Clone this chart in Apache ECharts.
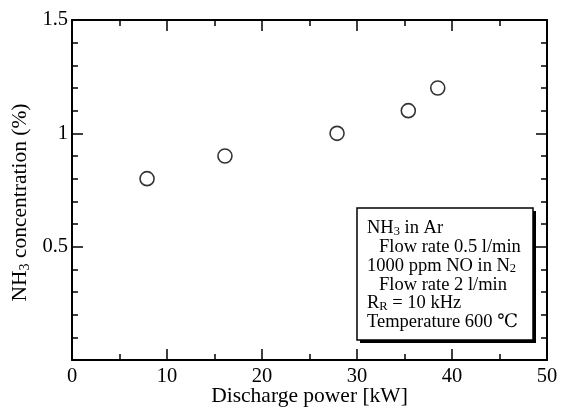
<!DOCTYPE html>
<html>
<head>
<meta charset="utf-8">
<script src="https://cdn.jsdelivr.net/npm/echarts@6/dist/echarts.min.js"></script>
<style>html,body{margin:0;padding:0;background:#fff;}#c{width:561px;height:409px;}</style>
</head>
<body>
<div id="c"></div>
<script>
const powerKW = [7.9, 16.1, 27.9, 35.4, 38.5];
const nh3Percent = [0.80, 0.90, 1.00, 1.10, 1.20];
const xTicks = [0, 10, 20, 30, 40, 50];
const yTicks = [0.5, 1, 1.5];
const noteLines = [
  '{t|NH}{s|3}{t| in Ar}',
  '{i| }{t|Flow rate 0.5 l/min}',
  '{t|1000 ppm NO in N}{s|2}',
  '{i| }{t|Flow rate 2 l/min}',
  '{t|R}{s|R}{t| = 10 kHz}',
  '{t|Temperature 600 \u2103}'
];

const F = '"Liberation Serif", "DejaVu Serif", serif';
const chart = echarts.init(document.getElementById('c'), null, {renderer: 'canvas'});
const axisLine = {show: true, onZero: false, lineStyle: {color: '#000', width: 2}};
const common = {
  axisLine: axisLine,
  splitLine: {show: false},
  axisTick: {show: true, inside: true, length: 11, lineStyle: {color: '#000', width: 1.5}},
  minorTick: {show: true, length: 6, lineStyle: {color: '#000', width: 1.5}}
};
const option = {
  animation: false,
  backgroundColor: '#fff',
  grid: {left: 72, right: 14, top: 20, bottom: 49, containLabel: false, outerBoundsMode: 'none'},
  xAxis: [
    Object.assign({}, common, {
      type: 'value', min: 0, max: 50, interval: 10, position: 'bottom',
      minorTick: Object.assign({}, common.minorTick, {splitNumber: 2}),
      axisLabel: {fontFamily: F, fontSize: 20.5, color: '#000', margin: 6,
        formatter: v => xTicks.includes(v) ? String(v) : ''},
      name: 'Discharge power [kW]', nameLocation: 'middle', nameGap: 25, nameMoveOverlap: false,
      nameTextStyle: {fontFamily: F, fontSize: 21.5, color: '#000'}
    }),
    Object.assign({}, common, {
      type: 'value', min: 0, max: 50, interval: 10, position: 'top',
      minorTick: Object.assign({}, common.minorTick, {splitNumber: 2}),
      axisLabel: {show: false}
    })
  ],
  yAxis: [
    Object.assign({}, common, {
      type: 'value', min: 0, max: 1.5, interval: 0.5, position: 'left',
      minorTick: Object.assign({}, common.minorTick, {splitNumber: 5}),
      axisLabel: {fontFamily: F, fontSize: 20.5, color: '#000', margin: 4,
        formatter: v => yTicks.some(t => Math.abs(t - v) < 1e-9) ? String(v) : ''},
      name: '{t|NH}{s|3}{t| concentration (%)}', nameLocation: 'middle', nameGap: 40, nameMoveOverlap: false,
      nameTextStyle: {fontFamily: F, fontSize: 21.5, color: '#000', padding: [0, 25, 0, 0],
        rich: {
          t: {fontFamily: F, fontSize: 21.5, color: '#000', lineHeight: 24, verticalAlign: 'middle'},
          s: {fontFamily: F, fontSize: 14, color: '#000', lineHeight: 24, verticalAlign: 'bottom'}
        }}
    }),
    Object.assign({}, common, {
      type: 'value', min: 0, max: 1.5, interval: 0.5, position: 'right',
      minorTick: Object.assign({}, common.minorTick, {splitNumber: 5}),
      axisLabel: {show: false}
    })
  ],
  series: [{
    type: 'scatter',
    xAxisIndex: 0, yAxisIndex: 0,
    data: powerKW.map((x, i) => [x, nh3Percent[i]]),
    symbol: 'circle', symbolSize: 14,
    itemStyle: {color: '#fff', borderColor: '#000', borderWidth: 1.6}
  }],
  graphic: [
    {type: 'rect', shape: {x: 360, y: 211, width: 176, height: 132}, style: {fill: '#000'}, z: 100},
    {type: 'rect', shape: {x: 357, y: 208, width: 176, height: 132}, style: {fill: '#fff', stroke: '#000', lineWidth: 1.5}, z: 101},
    {type: 'text', x: 367, y: 219, z: 102,
      style: {
        text: noteLines.join('\n'),
        fontFamily: F, fontSize: 18.5, fill: '#000',
        rich: {
          t: {fontFamily: F, fontSize: 18.5, fill: '#000', lineHeight: 18.8, verticalAlign: 'middle'},
          s: {fontFamily: F, fontSize: 12.5, fill: '#000', lineHeight: 18.8, verticalAlign: 'bottom'},
          i: {fontFamily: F, fontSize: 18.5, fill: '#000', lineHeight: 18.8, width: 12}
        }
      }
    }
  ]
};
chart.setOption(option);
</script>
</body>
</html>
